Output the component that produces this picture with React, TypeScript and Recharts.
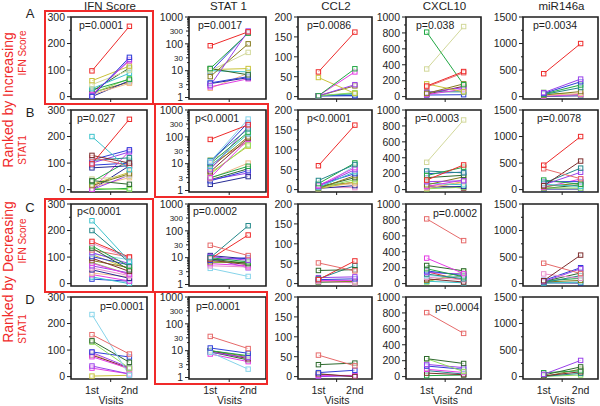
import React from 'react';
import { LineChart, Line, XAxis, YAxis, ReferenceArea } from 'recharts';

type Pair = [number, number];

// ---------- labels ----------
const VISITS = ['1st', '2nd'];
const VISIT_X = [1, 2];
const TITLES = ['IFN Score', 'STAT 1', 'CCL2', 'CXCL10', 'miR146a'];
const ROW_LETTERS = ['A', 'B', 'C', 'D'];
const P_TEXT = [
  ['p=0.0001', 'p=0.0017', 'p=0.0086', 'p=0.038', 'p=0.0034'],
  ['p=0.027', 'p<0.0001', 'p<0.0001', 'p=0.0003', 'p=0.0078'],
  ['p<0.0001', 'p=0.0002', '', 'p=0.0002', ''],
  ['p=0.0001', 'p=0.0001', '', 'p=0.0004', ''],
];

// ---------- data: [1st visit, 2nd visit] per patient ----------
const A_IFN: Pair[] = [[97, 265], [0, 148], [3, 140], [8, 135], [60, 115], [45, 100], [30, 88], [20, 108], [25, 65], [12, 68], [8, 50], [0, 60], [15, 55]];
const A_STAT1: Pair[] = [[85, 280], [2.8, 300], [12, 250], [6, 100], [10, 48], [12, 7], [11, 12], [10, 9], [3.5, 6], [3.3, 5.5], [2.5, 5], [2.2, 8], [9, 260]];
const A_CCL2: Pair[] = [[62, 162], [2, 70], [2, 62], [48, 8], [2, 30], [2, 27], [2, 10], [2, 8], [2, 2], [2, 5], [2, 3]];
const A_CXCL10: Pair[] = [[133, 315], [810, 150], [347, 880], [121, 300], [160, 60], [40, 160], [52, 113], [25, 93], [60, 60], [20, 24], [30, 130]];
const A_MIR: Pair[] = [[432, 1000], [75, 330], [60, 280], [50, 220], [40, 170], [30, 95], [20, 60], [10, 40], [80, 30], [5, 15]];

const B_IFN: Pair[] = [[97, 265], [200, 75], [129, 100], [121, 90], [112, 150], [100, 142], [110, 120], [82, 90], [92, 100], [34, 20], [30, 110], [15, 60], [40, 50], [20, 65], [0, 145], [0, 55], [5, 0], [0, 5], [10, 45], [0, 90]];
const B_STAT1: Pair[] = [[80, 280], [12, 460], [11, 340], [13, 200], [10, 150], [8, 130], [6, 240], [7, 100], [5, 90], [3, 80], [4, 50], [4.5, 45], [3, 8], [2.8, 10.5], [2.3, 5.5], [1.7, 3.3], [2.5, 4.5], [14, 60], [2.5, 6.5], [9, 70]];
const B_CCL2: Pair[] = [[60, 162], [23, 63], [15, 67], [10, 55], [8, 50], [5, 45], [12, 40], [3, 35], [6, 30], [4, 25], [2, 20], [7, 15], [3, 10], [5, 5], [2, 60], [9, 18]];
const B_CXCL10: Pair[] = [[120, 310], [343, 875], [177, 282], [234, 210], [200, 220], [150, 180], [100, 110], [60, 160], [40, 120], [80, 60], [20, 90], [30, 40], [10, 30], [50, 20], [15, 100]];
const B_MIR: Pair[] = [[460, 1000], [393, 205], [73, 538], [120, 405], [90, 327], [180, 100], [150, 150], [100, 60], [60, 120], [40, 200], [30, 30], [20, 90], [10, 10]];

const C_IFN: Pair[] = [[237, 84], [200, 80], [159, 100], [152, 96], [142, 65], [134, 52], [127, 100], [117, 75], [112, 90], [102, 70], [96, 46], [87, 60], [77, 34], [67, 40], [59, 30], [52, 20], [40, 25], [34, 10], [25, 0], [17, 9], [110, 55], [80, 35]];
const C_STAT1: Pair[] = [[29, 12], [10, 155], [9, 70], [11, 8], [10, 7], [9, 6], [8, 10], [7, 6.5], [6, 5], [5, 4.5], [12, 9], [8, 5.5], [4, 2], [9.5, 4.2], [6.5, 7]];
const C_CCL2: Pair[] = [[52, 32], [33, 35], [10, 57], [12, 45], [15, 17], [10, 12], [5, 2], [5, 5], [8, 8], [3, 4]];
const C_CXCL10: Pair[] = [[813, 540], [320, 126], [228, 160], [187, 85], [160, 100], [140, 120], [120, 60], [100, 80], [80, 50], [60, 20], [40, 100], [30, 10], [150, 40], [20, 150]];
const C_MIR: Pair[] = [[384, 190], [55, 537], [183, 100], [37, 280], [60, 300], [20, 150], [50, 100], [30, 60], [10, 30], [40, 200], [15, 10]];

const D_IFN: Pair[] = [[158, 85], [234, 5], [135, 54], [130, 32], [93, 74], [91, 34], [75, 30], [81, 32], [87, 26], [40, 10], [32, 10], [2, 5]];
const D_STAT1: Pair[] = [[34, 12], [12.6, 8], [8.7, 2.05], [8.7, 5.6], [10, 6.5], [10, 5], [7.5, 3.9], [10, 6], [9, 4.5]];
const D_CCL2: Pair[] = [[54, 27], [30, 34], [10, 16], [7, 0], [3, 3], [0, 2], [6, 0]];
const D_CXCL10: Pair[] = [[804, 543], [225, 165], [225, 64], [153, 113], [133, 92], [92, 52], [44, 24], [12, 20], [76, 32]];
const D_MIR: Pair[] = [[43, 305], [30, 183], [73, 110], [12, 91], [5, 61], [3, 30], [0, 140]];

const PANELS: Pair[][][] = [
  [A_IFN, A_STAT1, A_CCL2, A_CXCL10, A_MIR],
  [B_IFN, B_STAT1, B_CCL2, B_CXCL10, B_MIR],
  [C_IFN, C_STAT1, C_CCL2, C_CXCL10, C_MIR],
  [D_IFN, D_STAT1, D_CCL2, D_CXCL10, D_MIR],
];

// ---------- styles ----------
const PAL: Record<string, string> = {
  R: '#ee2a2a', BL: '#2f3fd8', PU: '#9a40ea', MG: '#e43be4', GR: '#22a845', DG: '#2e6a2e',
  OL: '#857a1c', YL: '#c9c33a', LY: '#d2d89a', LG: '#8ee05c', CY: '#3cc3cc', LB: '#86d4ea',
  TL: '#23888a', TN: '#f2b98c', PK: '#e98fcb', BR: '#7d2d2d', NV: '#262a95', SA: '#e66a6a',
};
const COLORS: string[][][] = [
  [
    'R BL PU MG YL LY CY DG GR LG TN NV OL'.split(' '),
    'R PU GR OL LY DG YL CY BL NV MG TN BL'.split(' '),
    'R GR MG YL PU OL LG TL BL CY NV'.split(' '),
    'R GR LY SA YL OL PU MG TL BL BR'.split(' '),
    'R PU BL GR TL OL TN MG LG NV'.split(' '),
  ],
  [
    'R CY BR SA BL PU TL NV BL DG GR OL LY YL MG PU LG GR TN NV'.split(' '),
    'R LB BL TL GR CY PU OL BR MG LG YL GR TN BL NV PU LY DG SA'.split(' '),
    'R TL GR MG PU CY BL OL DG LG YL TN NV PK LB BR'.split(' '),
    'R LY GR TL BL DG PU OL MG CY TN NV LG BR YL'.split(' '),
    'R SA BR TL PU GR BL CY OL MG LG DG NV'.split(' '),
  ],
  [
    'CY TL R PK GR DG SA PU LB BL BR OL MG PU PK NV TN MG CY BL YL LG'.split(' '),
    'SA TL R PU GR DG BL OL MG PK NV BR LB PU LG'.split(' '),
    'SA DG R TL PU BL PK OL MG GR'.split(' '),
    'SA MG DG GR BL PU TL LB PK BR OL CY R LG'.split(' '),
    'SA BR PK PU BL TL GR OL CY DG NV'.split(' '),
  ],
  [
    'SA LB DG LG BL PU MG BR TN PU MG YL'.split(' '),
    'SA BL LB PU GR BR MG OL DG'.split(' '),
    'SA DG BL BR MG PU GR'.split(' '),
    'SA DG LG PU BL MG BR GR TL'.split(' '),
    'PU DG GR BR TL LG OL'.split(' '),
  ],
];

// ---------- axes ----------
const X_DOMAIN: [number, number] = [0.44, 2.47];
type YCfg = { domain: [number, number]; big: number[]; small: number[]; minor: number[]; log: boolean };
const Y_CFG: YCfg[] = [
  { domain: [-9, 300], big: [0, 100, 200, 300], small: [], minor: [50, 150, 250], log: false },
  { domain: [0.88, 1000], big: [1, 10, 100, 1000], small: [3, 30, 300], minor: [2, 4, 5, 6, 7, 8, 9, 20, 40, 50, 60, 70, 80, 90, 200, 400, 500, 600, 700, 800, 900], log: true },
  { domain: [-6, 200], big: [0, 50, 100, 150, 200], small: [], minor: [25, 75, 125, 175], log: false },
  { domain: [-30, 1000], big: [0, 200, 400, 600, 800, 1000], small: [], minor: [100, 300, 500, 700, 900], log: false },
  { domain: [-45, 1500], big: [0, 500, 1000, 1500], small: [], minor: [250, 750, 1250], log: false },
];

// ---------- layout ----------
const COLS = [
  { x: 71, w: 76 }, { x: 189, w: 77 }, { x: 298, w: 74 }, { x: 406, w: 75 }, { x: 523, w: 75 },
];
const ROW_Y = [17, 110, 204, 297];
const BOX_H = 82;
const YW = 38;
const MT = 9;
const MR = 2;
const FONT = '"Liberation Sans", Arial, sans-serif';
const INK = '#1e1e1e';
const RED = '#f02a2a';

const P_POS: number[][][] = [
  [[79, 29], [198, 29], [307, 29], [416, 29], [533, 29]],
  [[77, 122], [195, 122], [307, 122], [415, 122], [537, 122]],
  [[77, 215], [193, 215], [0, 0], [433, 217], [0, 0]],
  [[100, 310], [196, 310], [0, 0], [435, 311], [0, 0]],
];

const makeYTick = (cfg: YCfg) => (props: any) => {
  const { x, y, payload } = props;
  const v = payload.value as number;
  const ax = x + 6;
  const isBig = cfg.big.includes(v);
  const isSmall = cfg.small.includes(v);
  const len = isBig ? 4 : isSmall ? 3 : 2;
  return (
    <g>
      <line x1={ax - len} x2={ax} y1={y} y2={y} stroke={INK} strokeWidth={1} />
      {(isBig || isSmall) && (
        <text x={x} y={y} dy={isBig ? 3.8 : 3} textAnchor="end" fontSize={isBig ? 10.5 : 8} fill={INK} fontFamily={FONT}>
          {v}
        </text>
      )}
    </g>
  );
};

const makeXTick = (showLabels: boolean) => (props: any) => {
  const { x, y, payload } = props;
  const v = payload.value as number;
  const ay = y - 6;
  if (v === 1.5) return <line x1={x} x2={x} y1={ay} y2={ay + 3} stroke={INK} strokeWidth={1} />;
  if (!showLabels) return <g />;
  const idx = VISIT_X.indexOf(v);
  return (
    <text x={x} y={ay + 14.5} textAnchor="middle" fontSize={10.5} fill={INK} fontFamily={FONT}>
      {VISITS[idx]}
    </text>
  );
};

const makeDot = (color: string, id: string) => (props: any) => {
  const { cx, cy, index } = props;
  if (cx == null || cy == null) return <g key={`${id}-${index}`} />;
  return (
    <rect key={`${id}-${index}`} x={cx - 2.2} y={cy - 2.2} width={4.4} height={4.4} fill="#ffffff" fillOpacity={0.55} stroke={color} strokeWidth={1} />
  );
};

function Panel({ row, col }: { row: number; col: number }) {
  const pairs = PANELS[row][col];
  const colors = COLORS[row][col];
  const cfg = Y_CFG[col];
  const data = VISIT_X.map((xv, vi) => {
    const d: Record<string, number> = { x: xv };
    pairs.forEach((p, i) => {
      d['s' + i] = p[vi];
    });
    return d;
  });
  const bottom = row === 3;
  const xH = bottom ? 24 : 8;
  const { x, w } = COLS[col];
  const top = ROW_Y[row];
  const allTicks = [...cfg.big, ...cfg.small, ...cfg.minor].sort((a, b) => a - b);
  const order = pairs.map((_, i) => i).reverse();
  return (
    <div style={{ position: 'absolute', left: x - YW, top: top - MT }}>
      <LineChart width={YW + w + MR} height={MT + BOX_H + xH} data={data} margin={{ top: MT, right: MR, bottom: 0, left: 0 }}>
        <XAxis
          type="number"
          dataKey="x"
          domain={X_DOMAIN}
          ticks={[1, 1.5, 2]}
          allowDataOverflow
          interval={0}
          axisLine={false}
          tickLine={false}
          tickSize={4}
          tickMargin={2}
          height={xH}
          tick={makeXTick(bottom)}
        />
        <YAxis
          type="number"
          domain={cfg.domain}
          scale={cfg.log ? 'log' : 'linear'}
          ticks={allTicks}
          allowDataOverflow
          interval={0}
          axisLine={false}
          tickLine={false}
          tickSize={4}
          tickMargin={2}
          width={YW}
          tick={makeYTick(cfg)}
        />
        <ReferenceArea
          x1={X_DOMAIN[0]}
          x2={X_DOMAIN[1]}
          y1={cfg.domain[0]}
          y2={cfg.domain[1]}
          stroke={INK}
          strokeWidth={1.6}
          fill="none"
          fillOpacity={0}
          ifOverflow="visible"
        />
        {order.map((i) => {
          const color = PAL[colors[i % colors.length]] || '#888';
          const id = `r${row}c${col}s${i}`;
          return (
            <Line
              key={id}
              dataKey={'s' + i}
              stroke={color}
              strokeWidth={1}
              dot={makeDot(color, id)}
              activeDot={false}
              isAnimationActive={false}
            />
          );
        })}
      </LineChart>
    </div>
  );
}

export default function App() {
  const redBoxes = [
    { x: 45, y: 11, w: 108, h: 93 },
    { x: 155, y: 104, w: 113, h: 93 },
    { x: 45, y: 199, w: 108, h: 93 },
    { x: 155, y: 292, w: 112, h: 92 },
  ];
  const letterY = [17.7, 116.5, 211.5, 303.5];
  return (
    <div style={{ position: 'absolute', left: 0, top: 0, width: 600, height: 406, background: '#fff', fontFamily: FONT, overflow: 'hidden' }}>
      {ROW_Y.map((_, r) => COLS.map((__, c) => <Panel key={`${r}-${c}`} row={r} col={c} />))}
      <svg width={600} height={406} style={{ position: 'absolute', left: 0, top: 0, pointerEvents: 'none' }}>
        {TITLES.map((t, c) => (
          <text key={t} x={COLS[c].x + COLS[c].w / 2 + 1} y={10} textAnchor="middle" fontSize={11.5} fill={INK} fontFamily={FONT}>
            {t}
          </text>
        ))}
        {ROW_LETTERS.map((l, r) => (
          <text key={l} x={30} y={letterY[r]} textAnchor="middle" fontSize={13} fill={INK} fontFamily={FONT}>
            {l}
          </text>
        ))}
        {redBoxes.map((b, i) => (
          <rect key={i} x={b.x} y={b.y} width={b.w} height={b.h} fill="none" stroke={RED} strokeWidth={2} />
        ))}
        {P_TEXT.map((rowT, r) =>
          rowT.map((t, c) =>
            t ? (
              <text key={`p${r}${c}`} x={P_POS[r][c][0]} y={P_POS[r][c][1]} fontSize={10.5} fill={INK} fontFamily={FONT}>
                {t}
              </text>
            ) : null
          )
        )}
        {COLS.map((c, i) => (
          <text key={`v${i}`} x={c.x + c.w / 2 + 2} y={404} textAnchor="middle" fontSize={10.5} fill={INK} fontFamily={FONT}>
            Visits
          </text>
        ))}
        <text transform="translate(8,100) rotate(-90)" textAnchor="middle" dominantBaseline="central" fontSize={14} fill={RED} fontFamily={FONT}>
          Ranked by Increasing
        </text>
        <text transform="translate(8,272) rotate(-90)" textAnchor="middle" dominantBaseline="central" fontSize={14} fill={RED} fontFamily={FONT}>
          Ranked by Decreasing
        </text>
        <text transform="translate(22,53) rotate(-90)" textAnchor="middle" dominantBaseline="central" fontSize={10} fill={RED} fontFamily={FONT}>
          IFN Score
        </text>
        <text transform="translate(22,150) rotate(-90)" textAnchor="middle" dominantBaseline="central" fontSize={10} fill={RED} fontFamily={FONT}>
          STAT1
        </text>
        <text transform="translate(22,241) rotate(-90)" textAnchor="middle" dominantBaseline="central" fontSize={10} fill={RED} fontFamily={FONT}>
          IFN Score
        </text>
        <text transform="translate(22,329) rotate(-90)" textAnchor="middle" dominantBaseline="central" fontSize={10} fill={RED} fontFamily={FONT}>
          STAT1
        </text>
      </svg>
    </div>
  );
}
